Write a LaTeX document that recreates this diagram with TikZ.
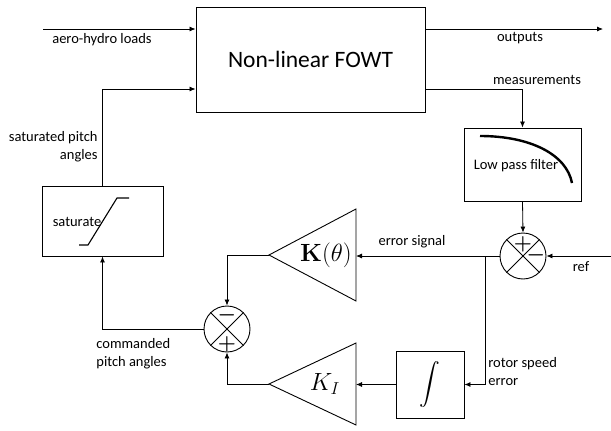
\documentclass[tikz,border=0pt]{standalone}
\usepackage{amsmath}
\usepackage[no-math]{fontspec}
\setmainfont{Carlito}
\usetikzlibrary{arrows.meta,positioning}

\begin{document}
\begin{tikzpicture}[x=1pt, y=-1pt, line width=0.8pt,
	block/.style={rectangle, draw, line width=0.9pt, inner sep=0pt},
	gainline/.style={line width=0.9pt, line join=miter},
	sumpt/.style={circle, draw, line width=0.9pt, minimum size=46pt, inner sep=0pt},
	sgn/.style={font=\fontsize{21}{21}\selectfont\boldmath, inner sep=0pt},
	lbl/.style={font=\fontsize{14.5}{18}\selectfont, inner sep=0pt},
	arr/.style={-{Latex[length=6pt,width=5pt]}}]

		\useasboundingbox (0,0) rectangle (611,431);

		% blocks
		\node[block, minimum width=229pt, minimum height=105pt] (fowt) at (310.5,59.5) {\fontsize{23.5}{28}\selectfont Non-linear FOWT};
		\node[block, minimum width=117pt, minimum height=73pt] (lpf) at (522.5,164.5) {};
		\node[block, minimum width=121pt, minimum height=70pt] (sat) at (102.5,221) {};
		\node[block, minimum width=68pt, minimum height=67pt] (intg) at (430,384.5) {\fontsize{20}{24}\selectfont$\displaystyle\int$};
		\node[sumpt] (sum1) at (523,256) {};
		\node[sumpt] (sum2) at (227,329) {};

		% gains
		\coordinate (ktout) at (269,255);
		\coordinate (ktin) at (356,255);
		\coordinate (kiout) at (269,384);
		\coordinate (kiin) at (356,384);
		\draw[gainline] (ktout) -- ([yshift=-46]ktin) -- ([yshift=46]ktin) -- cycle;
		\draw[gainline] (kiout) -- ([yshift=-41]kiin) -- ([yshift=41]kiin) -- cycle;
		\node (kt) at (326,255) {\fontsize{25}{30}\selectfont$\mathbf{K}(\theta)$};
		\node (ki) at (325,384) {\fontsize{25}{30}\selectfont$K_I$};

		% block contents
		\node[lbl] (lpftxt) at (516,166) {Low pass filter};
		\node[lbl] (sattxt) at (77,222) {saturate};
		\draw[line width=2.4pt] ([shift={(-42.5,-28.5)}]lpf.center) .. controls ([shift={(8,-28.5)}]lpf.center) and ([shift={(44,-10)}]lpf.center) .. ([shift={(49.5,18.5)}]lpf.center);
		\draw[line width=1.1pt] ([shift={(-23.5,24)}]sat.center) -- ++(9,0) -- ++(29,-47) -- ++(12,0);
		\foreach \s in {sum1, sum2} {
			\draw (\s.north west) -- (\s.south east);
			\draw (\s.north east) -- (\s.south west);
		}
		\node[sgn] at ([shift={(0,-12)}]sum1.center) {$+$};
		\node[sgn] at ([shift={(13,-1)}]sum1.center) {$-$};
		\node[sgn] at ([shift={(0,-14)}]sum2.center) {$-$};
		\node[sgn] at ([shift={(0,15)}]sum2.center) {$+$};

		% signals
		\coordinate (aero) at (43,29);
		\coordinate (outp) at (603,29);
		\coordinate (ref) at (611,256);
		\coordinate (br) at (485,256);

		\draw[arr] (aero) -- (aero -| fowt.west);
		\draw[arr] (outp -| fowt.east) -- (outp);
		\draw[arr] (sat.north) |- ([yshift=-29.5]fowt.west);
		\draw[arr] ([yshift=-29.5]fowt.east) -| (lpf.north);
		\draw[arr] (lpf.south) -- (sum1.north);
		\draw[arr] (ref) -- (sum1.east);
		\draw[arr] (sum1.west) -- (sum1.west -| ktin);
		\draw[arr] (br) |- (intg.east);
		\draw[arr] (intg.west) -- (intg.west -| kiin);
		\draw[arr] (ktout) -| (sum2.north);
		\draw[arr] (kiout) -| (sum2.south);
		\draw[arr] (sum2.west) -| (sat.south);

		% labels
		\node[lbl] at (102,40) {aero-hydro loads};
		\node[lbl] at (520,38) {outputs};
		\node[lbl] at (537,80) {measurements};
		\node[lbl, align=right, anchor=east] at (98,147) {saturated pitch\\angles};
		\node[lbl] at (412,242) {error signal};
		\node[lbl] at (581,267) {ref};
		\node[lbl, align=left, anchor=west] at (488,372) {rotor speed\\error};
		\node[lbl, align=left, anchor=west] at (96,354) {commanded\\pitch angles};
	\end{tikzpicture}
\end{document}
